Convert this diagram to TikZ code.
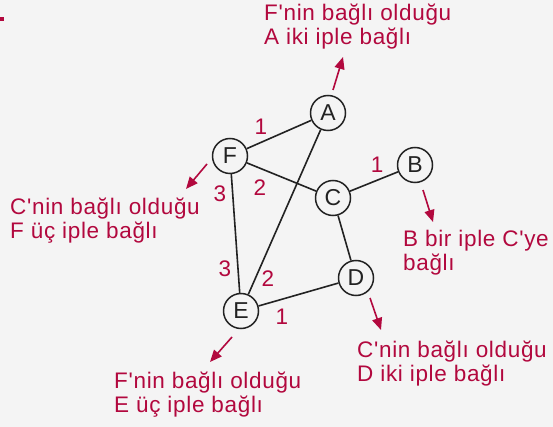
\documentclass[tikz,border=0pt]{standalone}
\usepackage{fontspec}
\setmainfont{Liberation Sans}[LetterSpace=3,Ligatures=TeXOff]
\usetikzlibrary{arrows.meta}
\definecolor{ipred}{RGB}{178,8,62}
\definecolor{bggray}{RGB}{244,244,244}
\definecolor{ink}{RGB}{34,34,34}
\tikzset{
  knot/.style={circle,draw=ink,line width=1.5pt,minimum size=35pt,inner sep=0pt,
    text=ink,font=\fontsize{23}{24}\selectfont},
  rope/.style={ink,line width=1.6pt},
  num/.style={text=ipred,inner sep=0pt,font=\fontsize{22.5}{24}\selectfont},
  note/.style={text=ipred,inner sep=0pt,align=left,anchor=base west,
    font=\fontsize{22.5}{24}\selectfont},
  pull/.style={ipred,line width=1.6pt,-{Triangle[length=12pt,width=10pt]}}
}
\begin{document}
\begin{tikzpicture}[x=1pt,y=-1pt]
  \useasboundingbox (0,0) rectangle (553,427);
  \fill[bggray] (0,0) rectangle (553,427);
  \fill[ipred] (0,17) rectangle (4,21);
  \node[knot] (A) at (328,113) {A};
  \node[knot] (F) at (230,156) {F};
  \node[knot] (B) at (415,165) {B};
  \node[knot] (C) at (333,198) {C};
  \node[knot] (D) at (356,278) {D};
  \node[knot] (E) at (241,311) {E};
  \draw[rope] (F) -- (A);
  \draw[rope] (A) -- (E);
  \draw[rope] (F) -- (C);
  \draw[rope] (C) -- (B);
  \draw[rope] (C) -- (D);
  \draw[rope] (F) -- (E);
  \draw[rope] (E) -- (D);
  \node[num] (nFA) at (261,127) {1};
  \node[num] (nCB) at (377,165) {1};
  \node[num] (nFC) at (260,188) {2};
  \node[num] (nFE) at (220,194) {3};
  \node[num] (nEF) at (225,269) {3};
  \node[num] (nEA) at (268,279) {2};
  \node[num] (nED) at (282,317) {1};
  \coordinate (a0) at (333,90);  \coordinate (a1) at (343,57);
  \coordinate (f0) at (207,164); \coordinate (f1) at (186,189);
  \coordinate (b0) at (423,190); \coordinate (b1) at (433,222);
  \coordinate (d0) at (370,298); \coordinate (d1) at (381,330);
  \coordinate (e0) at (232,337); \coordinate (e1) at (210,362);
  \draw[pull] (a0) -- (a1);
  \draw[pull] (f0) -- (f1);
  \draw[pull] (b0) -- (b1);
  \draw[pull] (d0) -- (d1);
  \draw[pull] (e0) -- (e1);
  \node[note] (tA) at (264,45) {F'nin bağlı olduğu\\A iki iple bağlı};
  \node[note] (tF) at (10,239) {C'nin bağlı olduğu\\F üç iple bağlı};
  \node[note] (tB) at (403,270) {B bir iple C'ye\\bağlı};
  \node[note] (tD) at (357,381) {C'nin bağlı olduğu\\D iki iple bağlı};
  \node[note] (tE) at (114,412) {F'nin bağlı olduğu\\E üç iple bağlı};
\end{tikzpicture}
\end{document}
